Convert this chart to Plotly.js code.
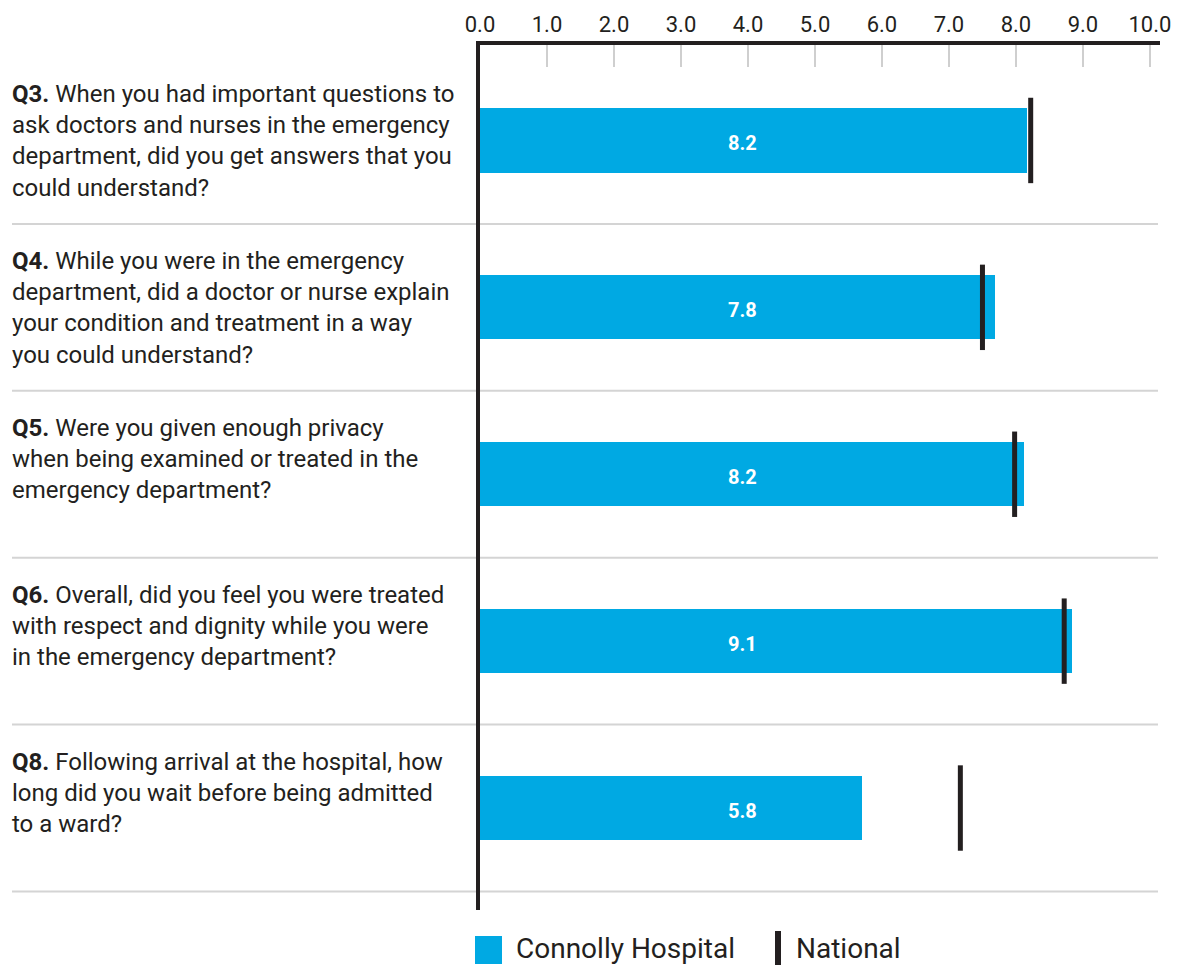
<!DOCTYPE html>
<html>
<head>
<meta charset="utf-8">
<script src="https://cdn.plot.ly/plotly-3.0.1.min.js"></script>
<style>
  html, body { margin: 0; padding: 0; background: #ffffff; }
  #chart { width: 1181px; height: 965px; }
</style>
</head>
<body>
<div id="chart"></div>
<script>
// ---- Data ----
var questionIds = ['Q3.', 'Q4.', 'Q5.', 'Q6.', 'Q8.'];
var questionTexts = [
  'When you had important questions to<br>ask doctors and nurses in the emergency<br>department, did you get answers that you<br>could understand?',
  'While you were in the emergency<br>department, did a doctor or nurse explain<br>your condition and treatment in a way<br>you could understand?',
  'Were you given enough privacy<br>when being examined or treated in the<br>emergency department?',
  'Overall, did you feel you were treated<br>with respect and dignity while you were<br>in the emergency department?',
  'Following arrival at the hospital, how<br>long did you wait before being admitted<br>to a ward?'
];
// bar lengths as drawn in the picture
var connollyBars = [8.17, 7.68, 8.12, 8.83, 5.70];
// score labels printed on the bars
var connollyLabels = ['8.2', '7.8', '8.2', '9.1', '5.8'];
// national comparison markers
var nationalScores = [8.22, 7.50, 7.98, 8.72, 7.17];
var xTickValues = [0, 1, 2, 3, 4, 5, 6, 7, 8, 9, 10];
var seriesNames = ['Connolly Hospital', 'National'];

// ---- Styles ----
var FONT = 'Roboto, "Liberation Sans", Arial, sans-serif';
var INK = '#231f20';
var BLUE = '#00a9e3';

var rowIdx = questionIds.map(function (_, i) { return i; });

var traces = [
  {
    type: 'bar',
    orientation: 'h',
    name: seriesNames[0],
    y: rowIdx,
    x: connollyBars,
    width: 0.385,
    marker: { color: BLUE, line: { width: 0 } },
    hoverinfo: 'skip',
    showlegend: false
  },
  {
    type: 'scatter',
    mode: 'markers',
    name: seriesNames[1],
    y: rowIdx,
    x: nationalScores,
    marker: {
      symbol: 'line-ns-open',
      size: 61,
      color: INK,
      line: { color: INK, width: 5 }
    },
    hoverinfo: 'skip',
    showlegend: false
  }
];

var annotations = [];
rowIdx.forEach(function (i) {
  annotations.push({
    xref: 'paper', yref: 'y',
    x: -0.691, y: i - 0.372,
    xanchor: 'left', yanchor: 'top', align: 'left',
    showarrow: false,
    text: '<b>' + questionIds[i] + '</b> ' + questionTexts[i],
    font: { family: FONT, size: 24, color: INK }
  });
  annotations.push({
    xref: 'x', yref: 'y',
    x: 3.92, y: i + 0.015,
    xanchor: 'center', yanchor: 'middle',
    showarrow: false,
    text: '<b>' + connollyLabels[i] + '</b>',
    font: { family: FONT, size: 20, color: '#ffffff' }
  });
});

// legend (custom)
var plotL = 480, plotR = 1160, plotT = 45, plotB = 910;
var pw = plotR - plotL, ph = plotB - plotT;
function px(x) { return (x - plotL) / pw; }
function py(y) { return (plotB - y) / ph; }

annotations.push({
  xref: 'paper', yref: 'paper', x: px(514), y: py(948),
  xanchor: 'left', yanchor: 'middle', showarrow: false,
  text: seriesNames[0], font: { family: FONT, size: 28, color: INK }
});
annotations.push({
  xref: 'paper', yref: 'paper', x: px(794), y: py(948),
  xanchor: 'left', yanchor: 'middle', showarrow: false,
  text: seriesNames[1], font: { family: FONT, size: 28, color: INK }
});

var shapes = [];
rowIdx.forEach(function (i) {
  shapes.push({
    type: 'line', layer: 'below',
    xref: 'paper', yref: 'y',
    x0: px(12), x1: px(1158), y0: i + 0.5, y1: i + 0.5,
    line: { color: '#d4d4d4', width: 2 }
  });
});
shapes.push({
  type: 'rect', xref: 'paper', yref: 'paper',
  x0: px(475), x1: px(502), y0: py(964), y1: py(936),
  fillcolor: BLUE, line: { width: 0 }
});
shapes.push({
  type: 'rect', xref: 'paper', yref: 'paper',
  x0: px(775), x1: px(781), y0: py(968), y1: py(931),
  fillcolor: INK, line: { width: 0 }
});

var layout = {
  width: 1181, height: 965,
  margin: { l: plotL, r: 1181 - plotR, t: plotT, b: 965 - plotB, pad: 0 },
  paper_bgcolor: '#ffffff',
  plot_bgcolor: 'rgba(0,0,0,0)',
  showlegend: false,
  bargap: 0,
  xaxis: {
    side: 'top',
    range: [0, 10.15],
    tickvals: xTickValues,
    tickformat: '.1f',
    ticks: 'inside',
    ticklen: 22,
    tickwidth: 1.5,
    tickcolor: '#cfcfcf',
    showline: true,
    linecolor: INK,
    linewidth: 4,
    showgrid: false,
    zeroline: false,
    ticklabelstandoff: 0,
    tickfont: { family: FONT, size: 22, color: INK },
    fixedrange: true
  },
  yaxis: {
    range: [4.611, -0.572],
    showticklabels: false,
    ticks: '',
    showline: true,
    linecolor: INK,
    linewidth: 4,
    showgrid: false,
    zeroline: false,
    fixedrange: true
  },
  annotations: annotations,
  shapes: shapes
};

Plotly.newPlot('chart', traces, layout, { displayModeBar: false, staticPlot: true });
</script>
</body>
</html>
